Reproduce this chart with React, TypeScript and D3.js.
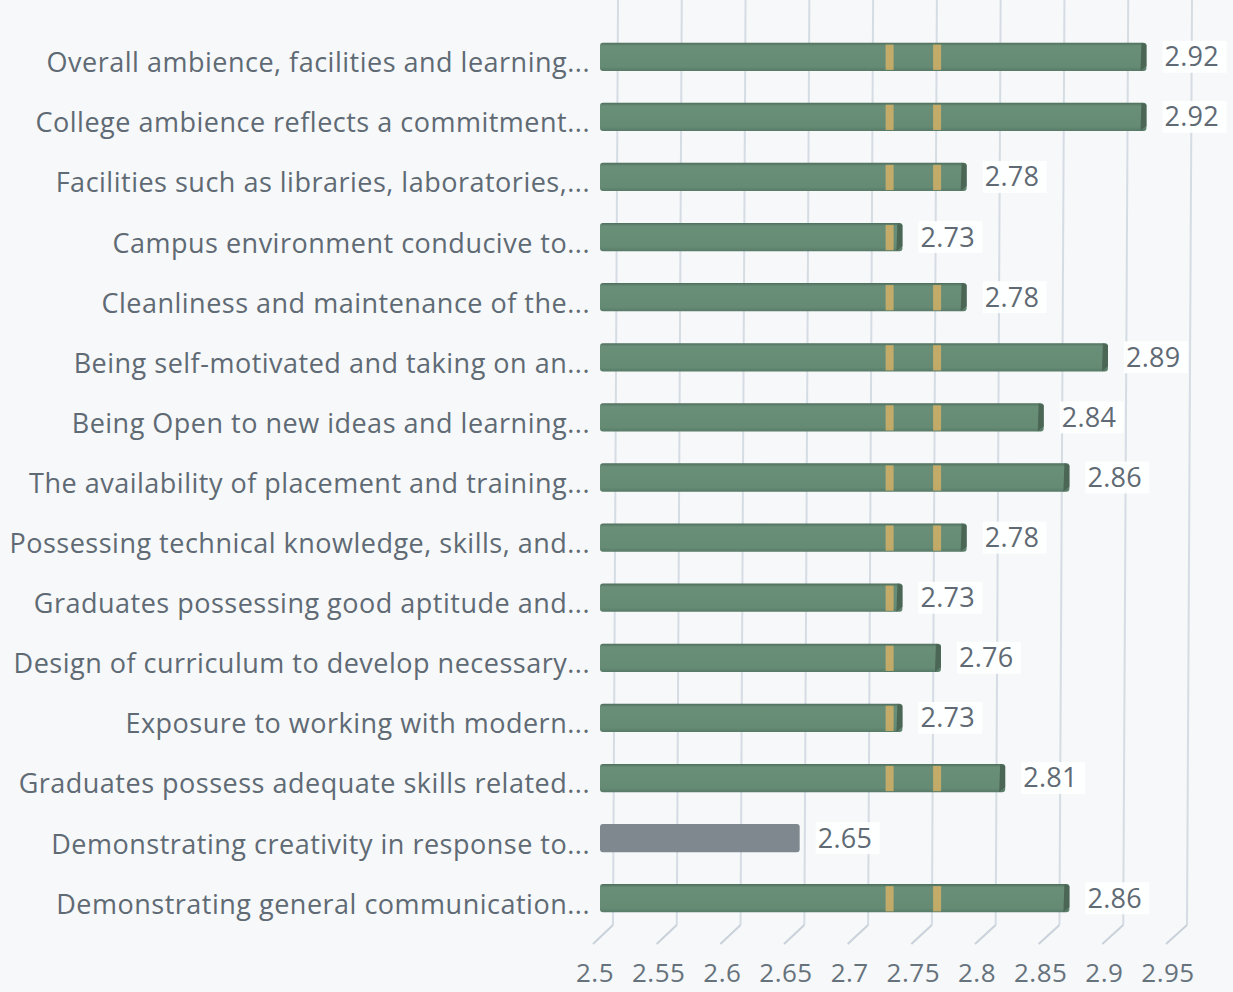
import React from "react";
import * as d3 from "d3";

const categories = [
  "Overall ambience, facilities and learning...",
  "College ambience reflects a commitment...",
  "Facilities such as libraries, laboratories,...",
  "Campus environment conducive to...",
  "Cleanliness and maintenance of the...",
  "Being self-motivated and taking on an...",
  "Being Open to new ideas and learning...",
  "The availability of placement and training...",
  "Possessing technical knowledge, skills, and...",
  "Graduates possessing good aptitude and...",
  "Design of curriculum to develop necessary...",
  "Exposure to working with modern...",
  "Graduates possess adequate skills related...",
  "Demonstrating creativity in response to...",
  "Demonstrating general communication...",
];
const values = [2.92, 2.92, 2.78, 2.73, 2.78, 2.89, 2.84, 2.86, 2.78, 2.73, 2.76, 2.73, 2.81, 2.65, 2.86];
const highlighted = [false, false, false, false, false, false, false, false, false, false, false, false, false, true, false];
const ticks = [2.5, 2.55, 2.6, 2.65, 2.7, 2.75, 2.8, 2.85, 2.9, 2.95];
const stripeValues = [2.72, 2.757];

const W = 1233;
const H = 992;
const FONT = "'Open Sans', Lato, sans-serif";
const TEXT = "#5f6a74";

export default function App() {
  const xBar = d3.scaleLinear().domain([2.5, 2.95]).range([607, 1185]);
  const xBack = d3.scaleLinear().domain([2.5, 2.95]).range([616, 1190]);
  const xFront = d3.scaleLinear().domain([2.5, 2.95]).range([595, 1168]);
  const yBar = d3.scaleBand<number>().domain(d3.range(categories.length)).range([27, 928]).paddingInner(0.53).paddingOuter(0.26);
  const bh = yBar.bandwidth();
  const yLabel = (i: number) => (yBar(i) as number) + bh / 2 + 6;
  const floorTop = 925;
  const floorBottom = 944;

  return (
    <svg width={W} height={H} style={{ position: "absolute", left: 0, top: 0, background: "#f6f8f9" }} fontFamily={FONT}>
      <defs>
        <linearGradient id="gBar" x1="0" y1="0" x2="0" y2="1">
          <stop offset="0" stopColor="#4e6e5c" />
          <stop offset="0.12" stopColor="#6a8f79" />
          <stop offset="0.85" stopColor="#658b75" />
          <stop offset="1" stopColor="#577a66" />
        </linearGradient>
      </defs>
      {/* gridlines */}
      {ticks.map((t) => (
        <g key={"g" + t}>
          <line x1={xBack(t) + 2} y1={0} x2={xBack(t) - 3} y2={floorTop} stroke="#d5dce4" strokeWidth={2} />
          <line x1={xBack(t) - 3} y1={floorTop} x2={xFront(t) - 2} y2={floorBottom} stroke="#c9d1da" strokeWidth={2} />
        </g>
      ))}
      {/* bars */}
      {values.map((v, i) => {
        const y = yBar(i) as number;
        const x0 = xBar(2.5) - 7;
        const x1 = xBar(v);
        const isHi = highlighted[i];
        return (
          <g key={"b" + i}>
            <rect x={x0} y={y} width={x1 - x0} height={bh} rx={3} fill={isHi ? "#7e888e" : "url(#gBar)"} />
            {!isHi &&
              stripeValues
                .filter((s) => xBar(s) + 8 < x1)
                .map((s) => (
                  <rect key={s} x={xBar(s) - 4} y={y + 2} width={8} height={bh - 3} fill="#e2b665" opacity={0.75} />
                ))}
            {!isHi && (
              <path
                d={`M${x1 - 5},${y} L${x1},${y + 2} L${x1},${y + bh - 5} L${x1 - 6},${y + bh} Z`}
                fill="#4c6656"
              />
            )}
          </g>
        );
      })}
      {/* value labels */}
      {values.map((v, i) => {
        const y = (yBar(i) as number) + bh / 2;
        const x = xBar(v) + 18;
        return (
          <g key={"v" + i}>
            <rect x={x - 2} y={y - 16} width={64} height={32} fill="#ffffff" opacity={0.9} />
            <text x={x} y={y} dy="0.35em" fontSize={27} letterSpacing={0.3} fill={TEXT}>
              {v.toFixed(2)}
            </text>
          </g>
        );
      })}
      {/* category labels */}
      {categories.map((c, i) => (
        <text key={"c" + i} x={590} y={yLabel(i)} dy="0.35em" textAnchor="end" fontSize={27} letterSpacing={0.5} fill={TEXT}>
          {c}
        </text>
      ))}
      {/* tick labels */}
      {ticks.map((t) => (
        <text key={"t" + t} x={xFront(t)} y={973} dy="0.35em" textAnchor="middle" fontSize={26} letterSpacing={0.5} fill="#66727c">
          {String(t)}
        </text>
      ))}
    </svg>
  );
}
